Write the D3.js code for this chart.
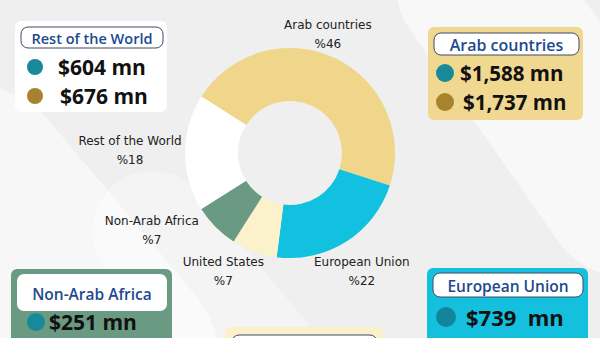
<!DOCTYPE html>
<html>
<head>
<meta charset="utf-8">
<script src="https://cdn.jsdelivr.net/npm/d3@7"></script>
<style>
  html, body { margin: 0; padding: 0; background: #f0f0f0; }
  svg { display: block; }
</style>
</head>
<body>
<div id="chart"></div>
<script>
// chart data
var categories = ["Arab countries", "European Union", "United States", "Non-Arab Africa", "Rest of the World"];
var shares = [46, 22, 7, 7, 18];
var sliceColors = ["#efd68b", "#12c0df", "#fbf1cb", "#6b9a83", "#ffffff"];

// values shown in the side boxes
var restValues = [604, 676];
var arabValues = [1588, 1737];
var africaValues = [251];
var euValues = [739];

var width = 600, height = 338;
var cx = 290, cy = 153, outerR = 105, innerR = 52;

var svg = d3.select("#chart").append("svg")
    .attr("width", width)
    .attr("height", height);

// soft background shapes
var bg = svg.append("g");
bg.append("rect").attr("width", width).attr("height", height).attr("fill", "#efefef");
bg.append("rect").attr("x", 470).attr("y", -120).attr("width", 160).attr("height", 420)
    .attr("rx", 80).attr("fill", "#ffffff").attr("opacity", 0.55)
    .attr("transform", "rotate(-35,550,90)");
bg.append("rect").attr("x", -60).attr("y", 60).attr("width", 190).attr("height", 420)
    .attr("rx", 95).attr("fill", "#ffffff").attr("opacity", 0.5)
    .attr("transform", "rotate(-40,40,250)");
bg.append("rect").attr("x", 150).attr("y", 150).attr("width", 120).attr("height", 300)
    .attr("rx", 60).attr("fill", "#ffffff").attr("opacity", 0.35)
    .attr("transform", "rotate(-40,210,300)");

// donut
var pie = d3.pie()
    .sort(null)
    .startAngle(-57.5 * Math.PI / 180)
    .endAngle((360 - 57.5) * Math.PI / 180);

var arc = d3.arc().innerRadius(innerR).outerRadius(outerR);
var labelArc = d3.arc().innerRadius(140).outerRadius(140);

var arcs = pie(shares);

var g = svg.append("g").attr("transform", "translate(" + cx + "," + cy + ")");

g.selectAll(".slice")
    .data(arcs)
    .enter()
    .append("path")
    .attr("class", "slice")
    .attr("d", arc)
    .attr("fill", function(d, i) { return sliceColors[i]; });

// nudges so the labels sit where the original put them
var nudge = [[-22, 8], [-3, 0], [-19, -14], [-39, -22], [-20, -3]];

var labels = g.selectAll(".lbl")
    .data(arcs)
    .enter()
    .append("g")
    .attr("class", "lbl")
    .attr("transform", function(d, i) {
        var c = labelArc.centroid(d);
        return "translate(" + (c[0] + nudge[i][0]) + "," + (c[1] + nudge[i][1]) + ")";
    });

labels.append("text")
    .attr("y", -9)
    .attr("text-anchor", "middle")
    .attr("dominant-baseline", "central")
    .style("font-family", "DejaVu Sans")
    .style("font-size", "12px")
    .style("fill", "#222")
    .text(function(d, i) { return categories[i]; });

labels.append("text")
    .attr("y", 10)
    .attr("text-anchor", "middle")
    .attr("dominant-baseline", "central")
    .style("font-family", "DejaVu Sans")
    .style("font-size", "12px")
    .style("fill", "#222")
    .text(function(d) { return "%" + d.data; });

// value boxes
var fmt = d3.format(",");
var titleBlue = "#1d4a8f";

function valueBox(opt) {
    var b = svg.append("g");
    b.append("rect")
        .attr("x", opt.x).attr("y", opt.y)
        .attr("width", opt.w).attr("height", opt.h)
        .attr("rx", 6).attr("fill", opt.fill);
    b.append("rect")
        .attr("x", opt.px).attr("y", opt.py)
        .attr("width", opt.pw).attr("height", opt.ph)
        .attr("rx", 7).attr("fill", "#ffffff")
        .attr("stroke", opt.stroke || "#3c4a66").attr("stroke-width", opt.stroke === "none" ? 0 : 1);
    if (opt.title) {
        b.append("text")
            .attr("x", opt.px + opt.pw / 2).attr("y", opt.py + opt.ph / 2 + 1)
            .attr("text-anchor", "middle")
            .attr("dominant-baseline", "central")
            .style("font-family", "Open Sans")
            .style("font-weight", 600)
            .style("font-size", opt.titleSize + "px")
            .style("fill", titleBlue)
            .text(opt.title);
    }
    (opt.values || []).forEach(function(v, i) {
        var row = opt.rows[i];
        b.append("circle")
            .attr("cx", row.dx).attr("cy", row.dy)
            .attr("r", row.r).attr("fill", row.color);
        b.append("text")
            .attr("x", row.tx).attr("y", row.dy)
            .attr("dominant-baseline", "central")
            .style("font-family", "Open Sans")
            .style("font-weight", 700)
            .style("font-size", opt.valueSize + "px")
            .style("fill", "#111")
            .style("white-space", "pre")
            .text("$" + fmt(v) + (opt.gap ? "  mn" : " mn"));
    });
}

var teal = "#17899b", gold = "#a8832f";

valueBox({
    x: 15, y: 21, w: 152, h: 91, fill: "#ffffff",
    px: 21, py: 27, pw: 142, ph: 21, title: "Rest of the World", titleSize: 14.5,
    values: restValues, valueSize: 21,
    rows: [{ dx: 35, dy: 67, r: 8, color: teal, tx: 58 }, { dx: 35, dy: 96, r: 8, color: gold, tx: 60 }]
});

valueBox({
    x: 428, y: 27, w: 155, h: 93, fill: "#f0d891",
    px: 434, py: 33, pw: 145, ph: 22, title: "Arab countries", titleSize: 16,
    values: arabValues, valueSize: 20.5,
    rows: [{ dx: 445, dy: 73, r: 9, color: teal, tx: 460 }, { dx: 445, dy: 102, r: 9, color: gold, tx: 463 }]
});

valueBox({
    x: 11, y: 269, w: 161, h: 90, fill: "#6b9a83",
    px: 17, py: 274, pw: 150, ph: 37, title: "Non-Arab Africa", titleSize: 15.5, stroke: "none",
    values: africaValues, valueSize: 21,
    rows: [{ dx: 36, dy: 322, r: 9, color: teal, tx: 49 }]
});

valueBox({
    x: 427, y: 268, w: 161, h: 90, fill: "#15c0de",
    px: 433, py: 273, pw: 150, ph: 24, title: "European Union", titleSize: 15.5,
    values: euValues, valueSize: 22, gap: true,
    rows: [{ dx: 446, dy: 317, r: 10, color: "#13849a", tx: 466 }]
});

valueBox({
    x: 225, y: 327, w: 158, h: 40, fill: "#fbf0c9",
    px: 232, py: 335, pw: 145, ph: 30, title: "", titleSize: 15
});
</script>
</body>
</html>
